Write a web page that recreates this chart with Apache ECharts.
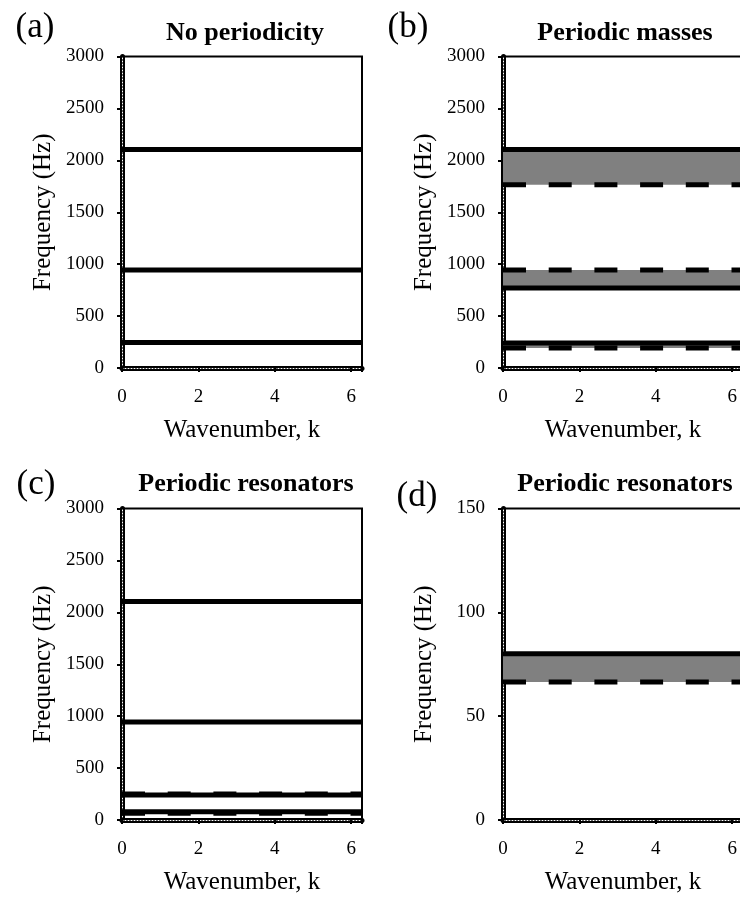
<!DOCTYPE html>
<html>
<head>
<meta charset="utf-8">
<script src="https://cdn.jsdelivr.net/npm/echarts@6/dist/echarts.min.js"></script>
<style>html,body{margin:0;padding:0;background:#fff}#c{width:740px;height:897px}</style>
</head>
<body>
<div id="c"></div>
<script>
// ---- data ----
const panelLabels = ['(a)', '(b)', '(c)', '(d)'];
const panelTitles = ['No periodicity', 'Periodic masses', 'Periodic resonators', 'Periodic resonators'];
const xTickLabels = [0, 2, 4, 6];
const yMaxes = [3000, 3000, 3000, 150];
const yIntervals = [500, 500, 500, 50];
// solid lines (Hz)
const solidA = [2105, 945, 245];
const solidB = [2105, 770, 240];
const solidC = [2105, 945, 240, 80];
const solidD = [80];
// dashed lines (Hz)
const dashedA = [];
const dashedB = [1765, 945, 192];
const dashedC = [250, 66];
const dashedD = [66.5];
// band gaps (Hz): [low, high]
const bandsA = [];
const bandsB = [[1765, 2105], [770, 945], [192, 240]];
const bandsC = [[66, 80]];
const bandsD = [[66.5, 80]];

const solids = [solidA, solidB, solidC, solidD];
const dasheds = [dashedA, dashedB, dashedC, dashedD];
const bands = [bandsA, bandsB, bandsC, bandsD];
const X_MAX = 2 * Math.PI;

// ---- layout ----
const FONT = 'Liberation Serif';
const grids = [
  {left: 122, top: 56.5, width: 240, height: 311.5},
  {left: 503, top: 56.5, width: 240, height: 311.5},
  {left: 122, top: 508.5, width: 240, height: 311.5},
  {left: 503, top: 508.5, width: 240, height: 311.5}
];
const titlePos = [[245, 33], [625, 33], [246, 484], [625, 484]];
const labelPos = [[35, 28], [408, 28], [36, 485], [417, 497]];

const option = {
  backgroundColor: '#fff',
  animation: false,
  grid: grids.map(g => Object.assign({show: true, borderColor: '#000', borderWidth: 2, backgroundColor: 'transparent', outerBoundsMode: 'none', containLabel: false}, g)),
  xAxis: [],
  yAxis: [],
  series: [],
  graphic: []
};

for (let i = 0; i < 4; i++) {
  option.xAxis.push({
    type: 'value', gridIndex: i, min: 0, max: X_MAX, interval: 2,
    name: 'Wavenumber, k', nameLocation: 'middle', nameGap: 50,
    nameTextStyle: {fontFamily: FONT, fontSize: 25, color: '#000'},
    axisLine: {show: true, lineStyle: {color: '#000', width: 5}},
    axisTick: {show: true, length: 4, lineStyle: {color: '#000', width: 2}},
    axisLabel: {
      margin: 20, fontFamily: FONT, fontSize: 19, color: '#000',
      formatter: v => (xTickLabels.indexOf(Math.round(v * 1000) / 1000) >= 0 ? String(v) : '')
    },
    splitLine: {show: false}
  });
  option.yAxis.push({
    type: 'value', gridIndex: i, min: 0, max: yMaxes[i], interval: yIntervals[i],
    name: 'Frequency (Hz)', nameLocation: 'middle', nameGap: 66,
    nameTextStyle: {fontFamily: FONT, fontSize: 25, color: '#000'},
    axisLine: {show: true, lineStyle: {color: '#000', width: 5}},
    axisTick: {show: true, length: 5, lineStyle: {color: '#000', width: 2}},
    axisLabel: {margin: 18, fontFamily: FONT, fontSize: 19, color: '#000', formatter: v => String(v)},
    splitLine: {show: false}
  });
}
// dotted overlay on the axis lines
for (let i = 0; i < 4; i++) {
  option.xAxis.push({
    type: 'value', gridIndex: i, min: 0, max: X_MAX, position: 'bottom', offset: 1,
    axisLine: {show: true, lineStyle: {color: '#fff', width: 1, type: [1, 2]}},
    axisTick: {show: false}, axisLabel: {show: false}, splitLine: {show: false}
  });
  option.yAxis.push({
    type: 'value', gridIndex: i, min: 0, max: yMaxes[i], position: 'left', offset: 1,
    axisLine: {show: true, lineStyle: {color: '#fff', width: 1, type: [1, 2]}},
    axisTick: {show: false}, axisLabel: {show: false}, splitLine: {show: false}
  });
}

for (let i = 0; i < 4; i++) {
  // bands
  if (bands[i].length) {
    option.series.push({
      type: 'line', xAxisIndex: i, yAxisIndex: i, data: [], silent: true, z: 1,
      markArea: {
        silent: true,
        itemStyle: {color: '#808080'},
        data: bands[i].map(b => [{yAxis: b[0]}, {yAxis: b[1]}])
      }
    });
  }
  solids[i].forEach(v => option.series.push({
    type: 'line', xAxisIndex: i, yAxisIndex: i, data: [[0, v], [X_MAX, v]],
    showSymbol: false, silent: true, z: 3,
    lineStyle: {color: '#000', width: 5, type: 'solid', cap: 'butt'}
  }));
  dasheds[i].forEach(v => option.series.push({
    type: 'line', xAxisIndex: i, yAxisIndex: i, data: [[0, v], [X_MAX, v]],
    showSymbol: false, silent: true, z: 4,
    lineStyle: {color: '#000', width: 5, type: [23, 22.7], cap: 'butt'}
  }));
  option.graphic.push({
    type: 'text', x: titlePos[i][0], y: titlePos[i][1],
    style: {text: panelTitles[i], font: 'bold 26px "Liberation Serif"', fill: '#000', align: 'center', verticalAlign: 'middle'}
  });
  option.graphic.push({
    type: 'text', x: labelPos[i][0], y: labelPos[i][1],
    style: {text: panelLabels[i], font: '35px "Liberation Serif"', fill: '#000', align: 'center', verticalAlign: 'middle'}
  });
}

const chart = echarts.init(document.getElementById('c'), null, {renderer: 'canvas'});
chart.setOption(option);
</script>
</body>
</html>
